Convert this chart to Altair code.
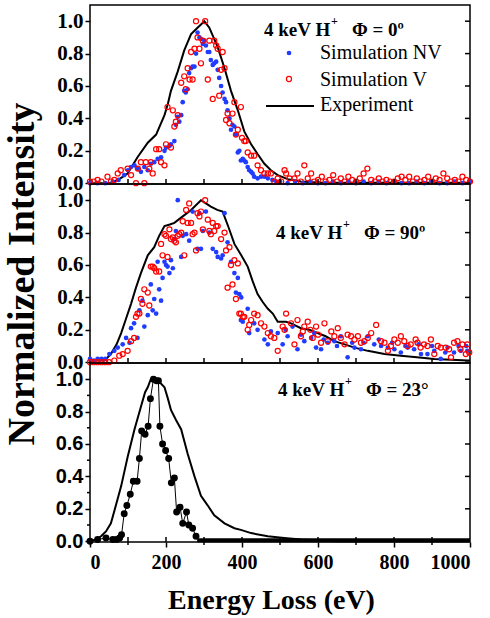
import altair as alt
import pandas as pd

SERIF = "Liberation Serif"
SANS = "Liberation Sans"
BLUE = "#1f3cff"
RED = "#ff0000"

# ---------------- Panel 1 : 4 keV H+, Phi = 0º ----------------
exp0 = [(0, 0.0), (55, 0.0), (80, 0.03), (99, 0.06), (125, 0.16), (152, 0.25), (174, 0.30),
        (196, 0.42), (205, 0.49), (213, 0.57), (231, 0.69), (248, 0.82), (266, 0.92), (283, 0.96),
        (301, 1.0), (314, 0.96), (336, 0.84), (354, 0.71), (371, 0.57), (389, 0.45), (406, 0.32),
        (424, 0.24), (441, 0.18), (459, 0.12), (476, 0.08), (494, 0.05), (520, 0.025), (555, 0.01),
        (600, 0.005), (700, 0.003), (800, 0.003), (900, 0.002), (1000, 0.002)]

nv0 = [(0, 0.0), (20, 0.0), (40, 0.0), (60, 0.01), (75, 0.02), (90, 0.05), (100, 0.08), (108, 0.1),
       (117, 0.11), (126, 0.09), (134, 0.07), (143, 0.1), (152, 0.08), (160, 0.12), (169, 0.13),
       (178, 0.15), (187, 0.16), (196, 0.2), (200, 0.22), (209, 0.23), (213, 0.24), (222, 0.26),
       (226, 0.36), (231, 0.41), (235, 0.38), (240, 0.42), (244, 0.5), (248, 0.57), (252, 0.56),
       (257, 0.58), (261, 0.68), (266, 0.71), (270, 0.72), (275, 0.72), (279, 0.8), (283, 0.93),
       (288, 0.9), (292, 0.89), (297, 0.86), (301, 0.88), (305, 0.85), (310, 0.81), (314, 0.81),
       (318, 0.76), (323, 0.73), (327, 0.74), (332, 0.75), (336, 0.7), (340, 0.65), (345, 0.6),
       (349, 0.56), (354, 0.52), (358, 0.5), (362, 0.45), (367, 0.4), (371, 0.33), (375, 0.36),
       (380, 0.35), (384, 0.3), (389, 0.19), (393, 0.2), (397, 0.14), (402, 0.15), (406, 0.14),
       (410, 0.13), (415, 0.1), (419, 0.08), (424, 0.07), (428, 0.06), (432, 0.04), (441, 0.03),
       (450, 0.04), (459, 0.04), (468, 0.03), (480, 0.02), (490, 0.01), (500, 0.01), (520, 0.0),
       (540, 0.01), (560, 0.0), (580, 0.01), (600, 0.0), (620, 0.0), (640, 0.01), (660, 0.0),
       (680, 0.01), (700, 0.0), (720, 0.01), (740, 0.0), (760, 0.01), (780, 0.0), (800, 0.01),
       (820, 0.0), (840, 0.0), (860, 0.01), (880, 0.0), (900, 0.01), (920, 0.0), (940, 0.0),
       (960, 0.01), (980, 0.0), (1000, 0.01)]

v0 = [(0, 0.01), (10, 0.01), (20, 0.02), (30, 0.01), (46, 0.04), (55, 0.01), (64, 0.02), (73, 0.06),
      (81, 0.08), (99, 0.09), (108, 0.05), (121, 0.0), (126, 0.09), (134, 0.13), (143, 0.0),
      (147, 0.13), (156, 0.09), (160, 0.13), (165, 0.06), (174, 0.21), (182, 0.21), (187, 0.13),
      (196, 0.11), (200, 0.24), (204, 0.47), (213, 0.22), (218, 0.45), (222, 0.35), (226, 0.38),
      (231, 0.42), (240, 0.62), (248, 0.66), (252, 0.58), (257, 0.71), (262, 0.64), (266, 0.81),
      (270, 0.64), (275, 0.83), (279, 1.0), (283, 0.9), (288, 0.83), (292, 0.74), (297, 0.88),
      (303, 1.0), (310, 0.64), (314, 0.88), (323, 0.52), (327, 0.88), (332, 0.85), (336, 0.83),
      (340, 0.54), (345, 0.7), (349, 0.81), (354, 0.71), (358, 0.39), (362, 0.43), (367, 0.37),
      (375, 0.43), (380, 0.5), (384, 0.3), (389, 0.33), (397, 0.47), (400, 0.28), (406, 0.26),
      (410, 0.26), (415, 0.19), (424, 0.17), (432, 0.17), (441, 0.11), (450, 0.08), (459, 0.06),
      (468, 0.06), (476, 0.06), (485, 0.01), (494, 0.03), (503, 0.01), (512, 0.08), (516, 0.06),
      (525, 0.03), (538, 0.03), (546, 0.06), (555, 0.01), (564, 0.11), (573, 0.03), (582, 0.06),
      (590, 0.01), (600, 0.02), (610, 0.04), (620, 0.01), (630, 0.02), (640, 0.05), (650, 0.01),
      (660, 0.03), (670, 0.01), (680, 0.04), (690, 0.02), (700, 0.01), (710, 0.03), (720, 0.06),
      (730, 0.09), (740, 0.02), (750, 0.01), (760, 0.03), (770, 0.01), (780, 0.02), (790, 0.01),
      (800, 0.01), (810, 0.03), (820, 0.04), (830, 0.02), (840, 0.04), (850, 0.01), (860, 0.03),
      (870, 0.01), (880, 0.02), (890, 0.04), (900, 0.01), (910, 0.03), (920, 0.02), (930, 0.06),
      (940, 0.03), (950, 0.01), (960, 0.02), (970, 0.01), (980, 0.04), (990, 0.02), (1000, 0.01)]

# ---------------- Panel 2 : 4 keV H+, Phi = 90º ----------------
exp90 = [(0, 0.01), (38, 0.01), (55, 0.05), (70, 0.11), (82, 0.18), (95, 0.27), (108, 0.36),
         (121, 0.46), (134, 0.55), (152, 0.66), (169, 0.71), (182, 0.78), (196, 0.84), (210, 0.85),
         (222, 0.86), (244, 0.9), (266, 0.94), (292, 1.0), (305, 0.98), (318, 0.96), (335, 0.94),
         (349, 0.93), (365, 0.83), (380, 0.73), (398, 0.66), (415, 0.59), (428, 0.5), (441, 0.42),
         (455, 0.37), (468, 0.33), (481, 0.3), (494, 0.25), (505, 0.25), (516, 0.25), (529, 0.24),
         (555, 0.21), (577, 0.2), (599, 0.18), (620, 0.16), (643, 0.13), (670, 0.11), (696, 0.09),
         (731, 0.07), (775, 0.05), (818, 0.04), (860, 0.03), (906, 0.02), (950, 0.015), (994, 0.01),
         (1000, 0.01)]

nv90 = [(0, 0.02), (10, 0.01), (20, 0.02), (30, 0.02), (40, 0.02), (51, 0.05), (64, 0.07), (73, 0.09),
        (86, 0.11), (95, 0.15), (104, 0.12), (108, 0.21), (116, 0.24), (125, 0.15), (130, 0.32),
        (138, 0.38), (143, 0.22), (152, 0.29), (160, 0.48), (165, 0.32), (169, 0.39), (174, 0.3),
        (178, 0.62), (182, 0.45), (187, 0.38), (191, 0.52), (196, 0.62), (200, 0.6), (204, 0.59),
        (209, 0.55), (213, 0.63), (218, 0.58), (222, 0.76), (226, 0.81), (231, 1.0), (240, 0.65),
        (244, 0.78), (253, 0.79), (261, 0.75), (270, 0.93), (283, 0.7), (288, 0.92), (292, 0.7),
        (297, 0.81), (305, 0.93), (314, 0.8), (323, 0.7), (332, 0.68), (336, 0.65), (345, 0.64),
        (349, 0.66), (354, 0.92), (362, 0.74), (371, 0.62), (380, 0.55), (384, 0.43), (389, 0.52),
        (393, 0.42), (398, 0.4), (397, 0.26), (402, 0.25), (415, 0.33), (419, 0.18), (432, 0.24),
        (441, 0.2), (459, 0.14), (468, 0.11), (476, 0.19), (494, 0.18), (507, 0.11), (515, 0.2),
        (520, 0.16), (533, 0.22), (546, 0.08), (555, 0.17), (564, 0.13), (582, 0.15), (590, 0.18),
        (595, 0.09), (608, 0.08), (615, 0.14), (626, 0.12), (643, 0.13), (650, 0.1), (660, 0.16),
        (678, 0.03), (690, 0.12), (696, 0.09), (713, 0.08), (720, 0.12), (731, 0.16), (748, 0.11),
        (760, 0.14), (766, 0.1), (784, 0.09), (795, 0.12), (801, 0.08), (818, 0.06), (830, 0.1),
        (836, 0.09), (853, 0.08), (865, 0.11), (871, 0.05), (888, 0.05), (900, 0.1), (906, 0.07),
        (923, 0.02), (935, 0.06), (941, 0.09), (958, 0.06), (970, 0.1), (976, 0.07), (990, 0.1),
        (993, 0.07)]

v90 = [(0, 0.0), (10, 0.0), (20, 0.0), (30, 0.0), (40, 0.0), (50, 0.0), (64, 0.01), (77, 0.04),
       (86, 0.05), (99, 0.07), (108, 0.13), (116, 0.15), (121, 0.28), (125, 0.3), (130, 0.3),
       (134, 0.39), (138, 0.36), (143, 0.45), (152, 0.43), (156, 0.35), (160, 0.59), (165, 0.59),
       (169, 0.58), (174, 0.56), (182, 0.56), (187, 0.73), (191, 0.66), (196, 0.79), (200, 0.78),
       (204, 0.65), (209, 0.82), (213, 0.76), (218, 0.77), (222, 0.75), (226, 0.74), (231, 0.78),
       (235, 0.79), (240, 0.8), (244, 0.87), (248, 0.66), (253, 0.94), (257, 0.86), (261, 0.98),
       (266, 0.86), (270, 0.79), (275, 0.8), (279, 0.69), (283, 0.92), (288, 0.9), (292, 0.93),
       (297, 0.82), (303, 1.0), (310, 0.88), (314, 0.81), (318, 0.79), (323, 0.86), (327, 0.81),
       (332, 0.84), (336, 0.84), (345, 0.76), (354, 0.8), (358, 0.69), (362, 0.46), (367, 0.71),
       (371, 0.6), (375, 0.48), (380, 0.63), (384, 0.39), (389, 0.61), (393, 0.3), (397, 0.3),
       (402, 0.28), (406, 0.28), (415, 0.2), (419, 0.23), (424, 0.26), (432, 0.3), (441, 0.29),
       (450, 0.24), (459, 0.22), (468, 0.18), (476, 0.16), (485, 0.15), (494, 0.07), (507, 0.22),
       (512, 0.2), (516, 0.3), (529, 0.24), (538, 0.11), (546, 0.26), (555, 0.16), (560, 0.19),
       (564, 0.22), (573, 0.25), (580, 0.2), (586, 0.15), (595, 0.22), (600, 0.17), (608, 0.12),
       (617, 0.24), (626, 0.13), (635, 0.19), (643, 0.16), (652, 0.21), (660, 0.15), (670, 0.11),
       (678, 0.17), (687, 0.16), (696, 0.14), (705, 0.16), (713, 0.12), (722, 0.13), (731, 0.15),
       (740, 0.18), (753, 0.23), (766, 0.13), (775, 0.12), (784, 0.07), (792, 0.1), (801, 0.14),
       (810, 0.12), (818, 0.16), (827, 0.13), (836, 0.1), (844, 0.11), (857, 0.14), (862, 0.12),
       (870, 0.09), (879, 0.11), (888, 0.1), (897, 0.14), (906, 0.05), (915, 0.1), (923, 0.09),
       (936, 0.09), (945, 0.08), (950, 0.03), (958, 0.12), (967, 0.13), (975, 0.08), (980, 0.11),
       (989, 0.05), (993, 0.11), (998, 0.06)]

# ---------------- Panel 3 : 4 keV H+, Phi = 23° ----------------
exp23 = [(0, 0.0), (15, 0.01), (29, 0.03), (42, 0.06), (55, 0.11), (68, 0.22), (82, 0.34), (99, 0.52),
         (117, 0.69), (134, 0.83), (145, 0.92), (152, 0.95), (160, 1.0), (170, 1.0), (180, 0.99),
         (196, 0.95), (205, 0.88), (213, 0.81), (226, 0.75), (240, 0.69), (257, 0.54), (275, 0.4),
         (292, 0.28), (310, 0.22), (327, 0.16), (354, 0.11), (380, 0.08), (397, 0.07), (424, 0.05),
         (468, 0.03), (511, 0.02), (555, 0.01), (600, 0.005), (650, 0.0), (1000, 0.0)]

sim23 = [(0, 0.0), (20, 0.01), (42, 0.02), (60, 0.01), (70, 0.01), (78, 0.02), (83, 0.04), (90, 0.17),
         (97, 0.22), (106, 0.29), (114, 0.37), (124, 0.37), (130, 0.51), (136, 0.68), (145, 0.66),
         (153, 0.71), (159, 0.88), (167, 1.0), (175, 0.99), (180, 0.99), (184, 0.71), (191, 0.6),
         (199, 0.56), (207, 0.51), (214, 0.36), (222, 0.39), (228, 0.18), (237, 0.21), (244, 0.11),
         (254, 0.18), (260, 0.1), (270, 0.08), (279, 0.03)]
sim23_tail = [(282, 0.006), (1000, 0.006)]

Y_TICKS = [0.0, 0.2, 0.4, 0.6, 0.8, 1.0]
Y_MINOR = [0.1, 0.3, 0.5, 0.7, 0.9]
X_MINOR = [100, 200, 300, 400, 500, 600, 700, 800, 900]
X_ODD = [100, 300, 500, 700, 900]
X_MAJOR = [0, 200, 400, 600, 800, 1000]

W, H = 380, 179
xs = alt.Scale(domain=[0, 1000], nice=False, zero=False)
ys = alt.Scale(domain=[-0.005, 1.1], nice=False, zero=False)


def df(pairs):
    return pd.DataFrame(pairs, columns=["E", "I"])


one = pd.DataFrame({"a": [0]})


def ycol(title, font=SERIF, size=21):
    kw = dict(values=Y_TICKS, format=".1f", labelFont=font, labelFontSize=size,
              labelFontWeight="bold", labelColor="black", tickColor="black", tickSize=5,
              tickWidth=1.5, domain=False, grid=False, labelPadding=2)
    if title:
        kw.update(titleFont=SERIF, titleFontSize=38, titleFontWeight="bold", titleColor="black",
                  titlePadding=15)
        return alt.Y("I:Q", scale=ys, axis=alt.Axis(**kw), title=title)
    return alt.Y("I:Q", scale=ys, axis=alt.Axis(**kw), title=None)


def text(s, x, y, size, weight="bold"):
    return alt.Chart(one).mark_text(text=s, font=SERIF, fontSize=size, fontWeight=weight,
                                    color="black", align="left", baseline="alphabetic").encode(
        x=alt.value(x), y=alt.value(y))


def label(x, y, angle_txt):
    return [text("4 keV H", x, y, 19), text("+", x + 67, y - 11, 12),
            text(angle_txt, x + 88, y, 19)]


def frame_ticks(xenc, yenc):
    """Inward ticks along the bottom and right edge of a panel."""
    xt = pd.DataFrame({"E": X_MINOR})
    yt = pd.DataFrame({"I": Y_TICKS})
    return [
        alt.Chart(xt).mark_rule(color="black", strokeWidth=1.5).encode(
            x=xenc, y=alt.value(H), y2=alt.value(H - 5)),
        alt.Chart(yt).mark_rule(color="black", strokeWidth=1.5).encode(
            y=yenc, x=alt.value(W), x2=alt.value(W - 5)),
    ]


def sim_panel(exp, nv, v, ytitle):
    xnone = alt.X("E:Q", scale=xs, axis=None)
    yc = ycol(ytitle)
    layers = [
        alt.Chart(df(exp)).mark_line(color="black", strokeWidth=2).encode(x=xnone, y=yc),
        alt.Chart(df(nv)).mark_circle(color=BLUE, size=22, opacity=1).encode(x=xnone, y=yc),
        alt.Chart(df(v)).mark_point(shape="circle", filled=False, color=RED, size=26,
                                    strokeWidth=1.2, opacity=1).encode(x=xnone, y=yc),
    ]
    layers += frame_ticks(xnone, yc)
    return layers


# panel 1
p1_layers = sim_panel(exp0, nv0, v0, None)
p1_layers += label(174, 31, "Φ = 0º")
p1_layers += [
    alt.Chart(one).mark_circle(color=BLUE, size=22, opacity=1).encode(x=alt.value(199), y=alt.value(48)),
    alt.Chart(one).mark_point(shape="circle", filled=False, color=RED, size=26, strokeWidth=1.2,
                              opacity=1).encode(x=alt.value(199), y=alt.value(74)),
    alt.Chart(one).mark_rule(color="black", strokeWidth=2).encode(
        x=alt.value(176), x2=alt.value(224), y=alt.value(101)),
    text("Simulation NV", 230, 54, 20, "normal"),
    text("Simulation V", 230, 81, 20, "normal"),
    text("Experiment", 230, 106, 20, "normal"),
]
p1 = alt.layer(*p1_layers).properties(width=W, height=H)

# panel 2
p2_layers = sim_panel(exp90, nv90, v90, "Normalized Intensity")
p2_layers += label(186, 55, "Φ = 90º")
p2 = alt.layer(*p2_layers).properties(width=W, height=H)

# panel 3
xbottom = alt.X("E:Q", scale=xs, title="Energy Loss (eV)",
                axis=alt.Axis(values=X_MAJOR, format="d", labelFont=SERIF, labelFontSize=20,
                              labelFontWeight="bold", labelColor="black", tickColor="black",
                              tickSize=5, tickWidth=1.5, domain=False, grid=False, labelPadding=5,
                              titleFont=SERIF, titleFontSize=28, titleFontWeight="bold",
                              titleColor="black", titlePadding=14, titleX=181))
y3 = ycol(None, SANS, 20)
p3_layers = [
    alt.Chart(df(exp23)).mark_line(color="black", strokeWidth=2).encode(x=xbottom, y=y3),
    alt.Chart(df(sim23)).mark_line(color="black", strokeWidth=1).encode(x=xbottom, y=y3),
    alt.Chart(df(sim23)).mark_circle(color="black", size=48, opacity=1).encode(x=xbottom, y=y3),
    alt.Chart(df(sim23_tail)).mark_line(color="black", strokeWidth=4).encode(x=xbottom, y=y3),
    alt.Chart(pd.DataFrame({"E": X_ODD})).mark_rule(color="black", strokeWidth=1.5).encode(
        x=xbottom, y=alt.value(H), y2=alt.value(H + 3)),
    alt.Chart(pd.DataFrame({"I": Y_MINOR})).mark_rule(color="black", strokeWidth=1.5).encode(
        y=y3, x=alt.value(0), x2=alt.value(-3)),
]
p3_layers += frame_ticks(xbottom, y3)
p3_layers += label(188, 33, "Φ = 23°")
p3 = alt.layer(*p3_layers).properties(width=W, height=H)

chart = alt.vconcat(p1, p2, p3, spacing=0, bounds="flush").properties(
    padding={"left": 3, "top": 4, "right": 0, "bottom": 1}
).configure_view(stroke="black", strokeWidth=1.5)

chart.save("out.html", embed_options={"renderer": "svg", "actions": False})
